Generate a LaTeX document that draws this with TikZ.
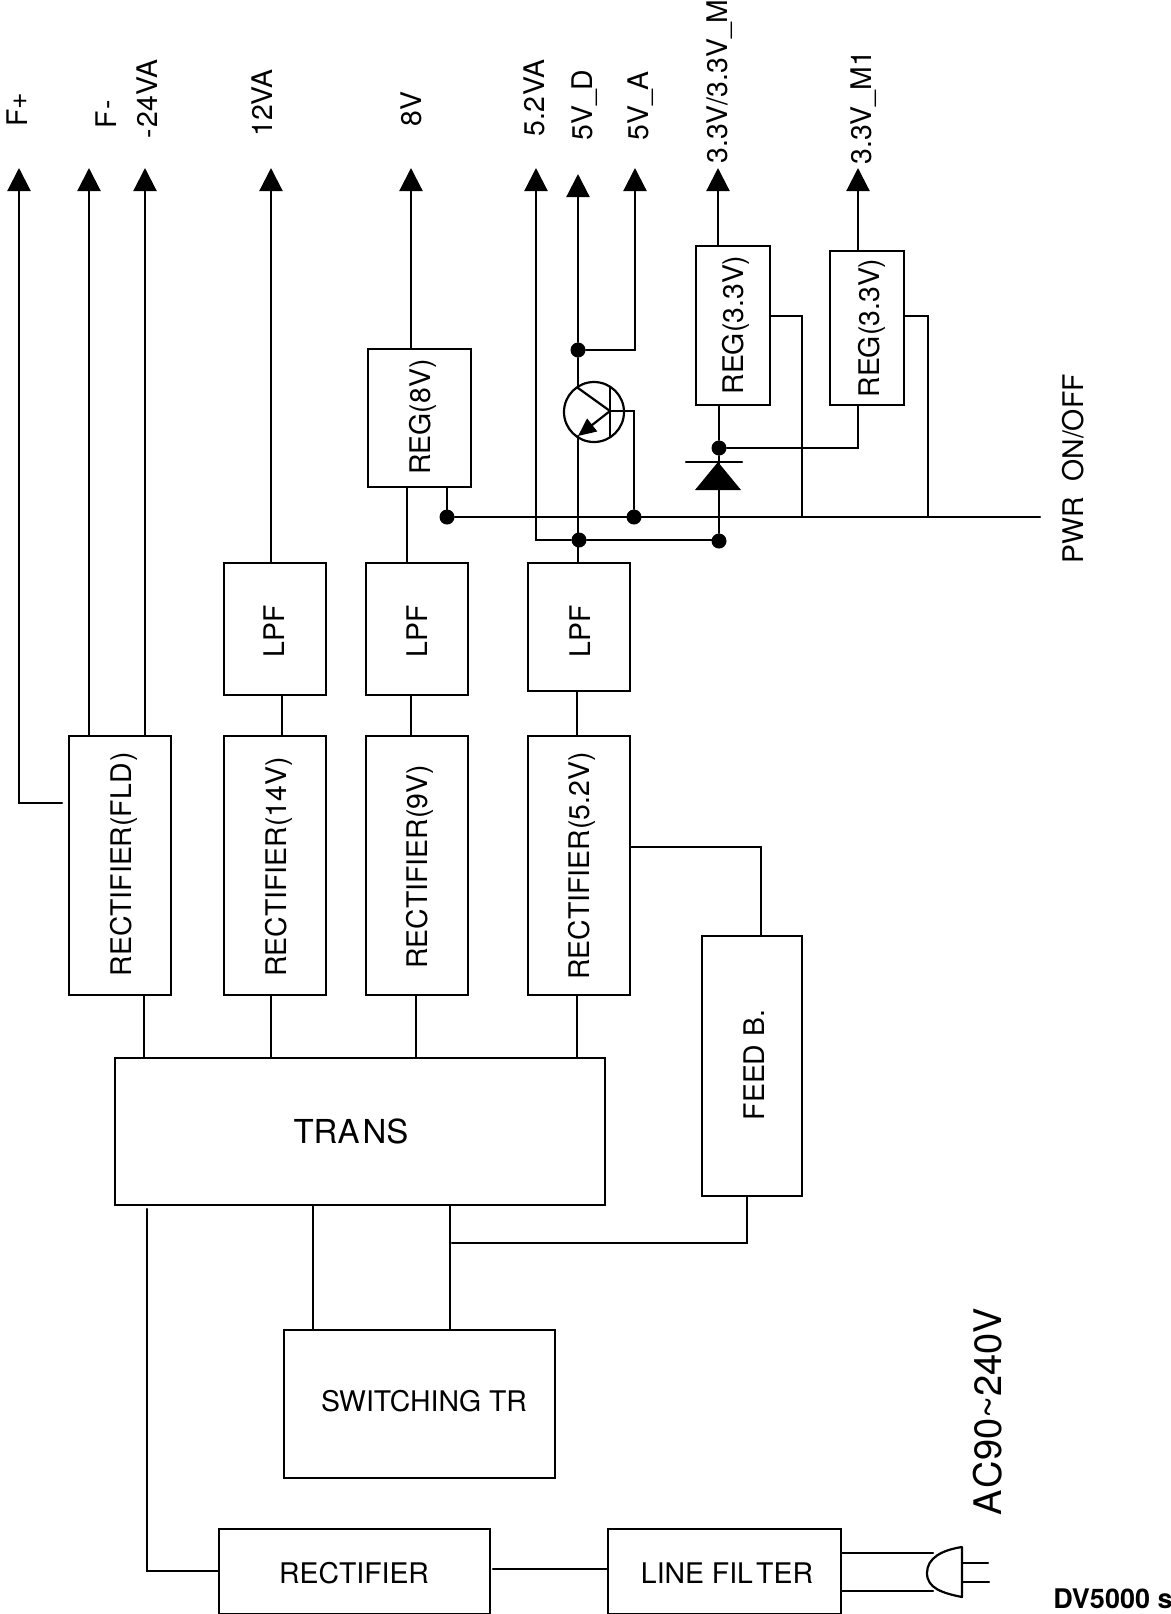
\documentclass[tikz,border=0pt]{standalone}
\usepackage{fontspec}
\setmainfont{TeX Gyre Heros}
\usetikzlibrary{arrows.meta}
\tikzset{
  wire/.style={line width=1.1pt,line cap=round,line join=miter},
  feed/.style={wire,-{Triangle[length=11.5pt,width=11.5pt]}},
  dot/.style={circle,fill=black,draw=none,minimum size=7.5pt,inner sep=0pt},
  lbl/.style={font=\fontsize{14.2}{16}\selectfont,inner sep=0pt},
  up/.style={lbl,rotate=90},
  tag/.style={up,anchor=base west},
}
\newcommand{\bx}[5]{\node[draw,line width=1.1pt,inner sep=0pt,minimum width={(#4-#2)*0.5pt},minimum height={(#5-#3)*0.5pt}] (#1) at ({(#2+#4)/2},{(#3+#5)/2}) {};}
\newcommand{\vlink}[3]{\draw[wire] (#1 -| #3,0) -- (#2 -| #3,0);}
\begin{document}
\begin{tikzpicture}[x=0.5pt,y=-0.5pt]
\useasboundingbox (0,0) rectangle (1171,1614);
% boxes
\bx{rfld}{69}{736}{171}{995}
\bx{rA}{224}{736}{326}{995}
\bx{rB}{366}{736}{468}{995}
\bx{rC}{528}{736}{630}{995}
\bx{lA}{224}{563}{326}{695}
\bx{lB}{366}{563}{468}{695}
\bx{lC}{528}{563}{630}{691}
\bx{regE}{368}{349}{471}{487}
\bx{regM}{696}{246}{770}{405}
\bx{regN}{830}{251}{904}{405}
\bx{fb}{702}{936}{802}{1196}
\bx{trans}{115}{1058}{605}{1205}
\bx{sw}{284}{1330}{555}{1478}
\bx{rect}{219}{1529}{490}{1614}
\bx{line}{608}{1529}{841}{1614}
% box texts
\node[up] (t1) at (124,864) {RECTIFIER(FLD\kern1.2pt)};
\node[up] (t2) at (279,867) {RECTIFIER(14V)};
\node[up] (t3) at (420,867) {RECTIFIER(9V)};
\node[up] (t4) at (582,866) {RECTIFIER(5.2V)};
\node[up] (t5) at (274,631) {LPF};
\node[up] (t6) at (417,631) {LPF};
\node[up] (t7) at (580,631) {LPF};
\node[up] (t8) at (423,417) {REG(8V)};
\node[up] (t9) at (736,325) {REG(3.3V)};
\node[up] (t10) at (872,328) {REG(3.3V)};
\node[up] (t11) at (754,1065) {FEED B.};
\node[lbl,font=\fontsize{16.5}{18}\selectfont] (t12) at (351,1131) {TRA\kern1.5pt NS};
\node[lbl] (t13) at (424,1401) {SWITCHING TR};
\node[lbl] (t14) at (354,1573) {RECTIFIER};
\node[lbl] (t15) at (727,1573) {LINE FIL\kern1.6pt TER};
% free ends of the arrows
\coordinate (aFp) at (19,168);
\coordinate (aFm) at (89,168);
\coordinate (a24) at (145,168);
\coordinate (a12) at (271,168);
\coordinate (a8) at (411,168);
\coordinate (a52) at (536,168);
\coordinate (a5d) at (578,174);
\coordinate (a5a) at (635,168);
\coordinate (a33) at (718,168);
\coordinate (a33b) at (858,168);
% top labels
\node[tag] (l1) at (27,127) {F+};
\node[tag] (l2) at (116,129) {F\kern.8pt-};
\node[tag] (l3) at (157,139) {-\kern1pt 24VA};
\node[tag] (l4) at (272,137) {12VA};
\node[tag] (l5) at (421,127) {8V};
\node[tag] (l6) at (544,137) {5.2\kern1pt VA};
\node[tag] (l7) at (592,141) {5V\_D};
\node[tag] (l8) at (648,141) {5V\_A};
\node[tag] (l9) at (727,164) {3.3V/3.3V\_M};
\node[tag] (l10) at (871,165) {3.3V\_M1};
\node[tag] (l11) at (1083,564) {PWR\ \ ON/OFF};
\node[tag,font=\fontsize{19}{21}\selectfont] (l12) at (1001,1516) {A\kern1pt C90\textasciitilde 240V};
\node[lbl,anchor=base west,font=\fontsize{13.5}{15}\selectfont\bfseries] (l13) at (1053,1608) {DV5000 s};
% junctions
\node[dot] (dE) at (578,350) {};
\node[dot] (dD) at (719,448) {};
\node[dot] (dP) at (447,517) {};
\node[dot] (dB) at (634,517) {};
\node[dot] (dS) at (579,540) {};
\node[dot] (dK) at (719,541) {};
\coordinate (pwrEnd) at (1040,517);
% arrows out
\coordinate (fpE) at (62,803);
\draw[feed] (fpE) -| (aFp);
\draw[feed] (rfld.north -| aFm) -- (aFm);
\draw[feed] (rfld.north -| a24) -- (a24);
\draw[feed] (lA.north -| a12) -- (a12);
\draw[feed] (regE.north -| a8) -- (a8);
\draw[wire] (dS) -- (dS -| a52);
\draw[feed] (dS -| a52) -- (a52);
\draw[feed] (dE) -- (a5d);
\draw[wire] (dE) -- (dE -| a5a);
\draw[feed] (dE -| a5a) -- (a5a);
\draw[feed] (regM.north -| a33) -- (a33);
\draw[feed] (regN.north -| a33b) -- (a33b);
% short links
\vlink{regE.south}{lB.north}{407}
\vlink{lA.south}{rA.north}{282}
\vlink{lB.south}{rB.north}{411}
\vlink{lC.south}{rC.north}{577}
\vlink{rfld.south}{trans.north}{144}
\vlink{rA.south}{trans.north}{271}
\vlink{rB.south}{trans.north}{416}
\vlink{rC.south}{trans.north}{577}
\vlink{trans.south}{sw.north}{313}
\vlink{trans.south}{sw.north}{450}
% power rail
\draw[wire] (dP) -- (pwrEnd);
\vlink{regE.south}{dP}{447}
\draw[wire] (regM.east |- 0,316) -| (pwrEnd -| 802,0);
\draw[wire] (regN.east |- 0,316) -| (pwrEnd -| 928,0);
% 3.3 V regulators and diode
\draw[wire] (regM.south -| dD) -- (dD);
\draw[wire] (dD) -- (dK);
\draw[wire] (dD) -| (regN.south -| a33b);
\coordinate (diA) at (718,462);
\coordinate (diL) at (695,490);
\coordinate (diR) at (741,490);
\coordinate (diBl) at (686,462);
\coordinate (diBr) at (742,462);
\fill (diA) -- (diR) -- (diL) -- cycle;
\draw[wire] (diBl) -- (diBr);
% 5.2 V bus
\draw[wire] (dS) -- (dS -| dK);
\draw[wire] (lC.north -| a5d) -- (dS -| a5d);
% transistor
\coordinate (qC) at (594,412);
\draw[wire] (qC) circle (30);
\coordinate (qBt) at (610,387);
\coordinate (qBb) at (610,437);
\coordinate (qB) at (610,411);
\coordinate (qCo) at (578,388);
\coordinate (qEm) at (578,436);
\draw[wire] (qBt) -- (qBb);
\draw[wire] (qCo) -- (qB);
\draw[wire,-{Triangle[length=9pt,width=8pt]}] (qB) -- (qEm);
\draw[wire] (dE) -- (qCo);
\draw[wire] (qEm) -- (qEm |- dS);
\draw[wire] (qB) -| (dB);
% feedback
\draw[wire] (rC.east |- 0,847) -| (fb.north -| 761,0);
\coordinate (fbJ) at (452,1243);
\draw[wire] (fb.south -| 747,0) |- (fbJ);
% primary
\coordinate (prA) at (147,1209);
\draw[wire] (prA) |- (rect.west |- 0,1571);
\draw[wire] (493,1569) -- (line.west |- 0,1569);
% plug
\coordinate (plE) at (933,1553);
\coordinate (plF) at (933,1591);
\draw[wire] (line.east |- plE) -- (plE);
\draw[wire] (line.east |- plF) -- (plF);
\coordinate (pgT) at (962,1547);
\coordinate (pgB) at (962,1597);
\coordinate (pgM) at (927,1573);
\draw[wire,line join=round] (pgT) -- (pgB) .. controls (942,1593) and (927,1588) .. (pgM) .. controls (927,1558) and (942,1550) .. (pgT);
\coordinate (prE) at (988,1563);
\coordinate (prF) at (989,1582);
\draw[wire] (prE -| pgT) -- (prE);
\draw[wire] (prF -| pgT) -- (prF);
\end{tikzpicture}
\end{document}
